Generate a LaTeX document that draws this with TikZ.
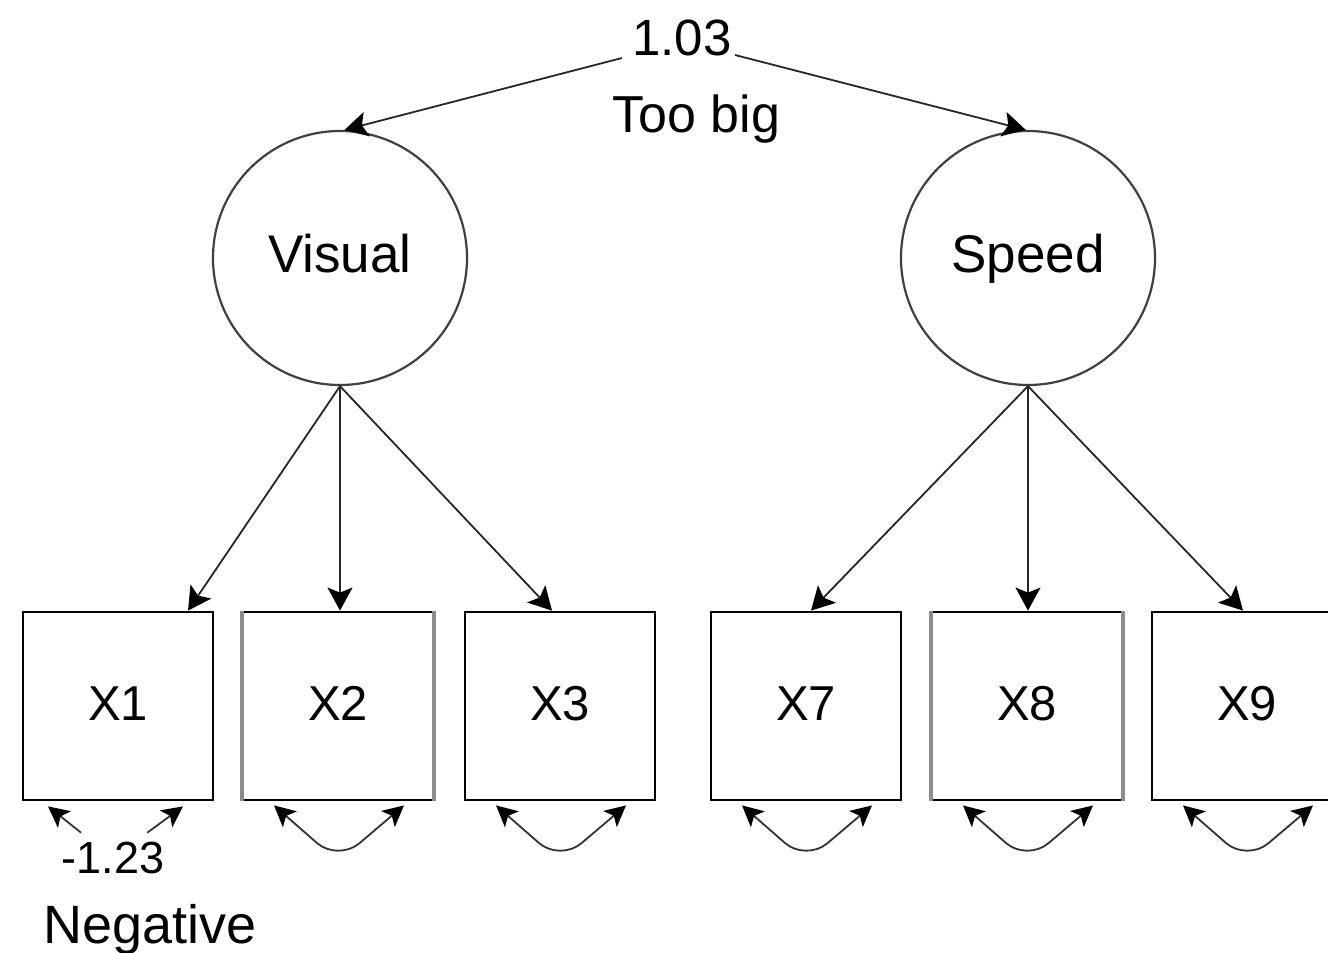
\documentclass[tikz,border=0pt]{standalone}
\usepackage{fontspec}
\setmainfont{Liberation Sans}
\usetikzlibrary{arrows.meta,calc}
\begin{document}
\begin{tikzpicture}[x=0.5pt,y=-0.5pt,
  latent/.style={circle,draw=black!75,line width=1.1pt,minimum size=127pt,inner sep=0pt,
    font=\fontsize{26.5}{30}\selectfont,text height=19.1pt,text depth=4.2pt},
  observed/.style={rectangle,draw=black,line width=1.4pt,minimum width=95pt,minimum height=94pt,
    inner sep=0pt,font=\fontsize{24.5}{28}\selectfont,text height=17.6pt,text depth=3.6pt},
  load/.style={draw=black!85,line width=0.9pt,-{Stealth[length=11.5pt,width=12.5pt,inset=2.5pt,color=black]}},
  resid/.style={draw=black!80,line width=0.9pt,rounded corners=14pt,
    {Stealth[length=10.5pt,width=10.5pt,inset=2.5pt,color=black]}-{Stealth[length=10.5pt,width=10.5pt,inset=2.5pt,color=black]}},
  residone/.style={draw=black!80,line width=0.9pt,-{Stealth[length=10.5pt,width=10.5pt,inset=2.5pt,color=black]}},
  graysides/.style={draw=black!45,line width=2pt},
  lbl/.style={inner sep=0pt,anchor=base west}
]
\useasboundingbox (0,0) rectangle (1328,953);
\clip (0,0) rectangle (1328,953);

% latent variables
\node[latent] (vis) at (340,258) {Visual};
\node[latent] (spd) at (1028,258) {Speed};

% observed variables
\node[observed] (x1) at (118,706) {X1};
\node[observed] (x2) at (338,706) {X2};
\node[observed] (x3) at (560,706) {X3};
\node[observed] (x7) at (806,706) {X7};
\node[observed] (x8) at (1027,706) {X8};
\node[observed] (x9) at (1247,706) {X9};

% gray side edges
\draw[graysides] (x2.north west) -- (x2.south west);
\draw[graysides] (x2.north east) -- (x2.south east);
\draw[graysides] (x8.north west) -- (x8.south west);
\draw[graysides] (x8.north east) -- (x8.south east);

% loadings
\draw[load] (vis.south) -- ($(x1.north)+(70,0)$);
\draw[load] (vis.south) -- (vis.south |- x2.north);
\draw[load] (vis.south) -- ($(x3.north)+(-8,0)$);
\draw[load] (spd.south) -- ($(x7.north)+(5,0)$);
\draw[load] (spd.south) -- (spd.south |- x8.north);
\draw[load] (spd.south) -- ($(x9.north)+(-4,0)$);

% covariance between latent variables
\node[lbl,font=\fontsize{25.5}{30}\selectfont] (cov) at (632,55) {1.03};
\node[lbl,font=\fontsize{26}{30}\selectfont] (big) at (612,132) {Too big};
\coordinate (cl) at (622,58);
\coordinate (cr) at (735,55);
\draw[load] (cl) -- (vis.88);
\draw[load] (cr) -- (spd.91.4);

% residual variances
\foreach \k in {x2,x3,x7,x8,x9}{
  \draw[resid] ($(\k.south)+(-64,4)$) -- ($(\k.south)+(0,60)$) -- ($(\k.south)+(66,4)$);
}
\node[inner sep=4.5pt,font=\fontsize{22.5}{26}\selectfont] (v1) at (113,858) {-1.23};
\draw[residone] (v1) -- ($(x1.south)+(-70,5)$);
\draw[residone] (v1) -- ($(x1.south)+(65,5)$);
\node[lbl,font=\fontsize{27}{30}\selectfont] (neg) at (43,943) {Negative};
\end{tikzpicture}
\end{document}
